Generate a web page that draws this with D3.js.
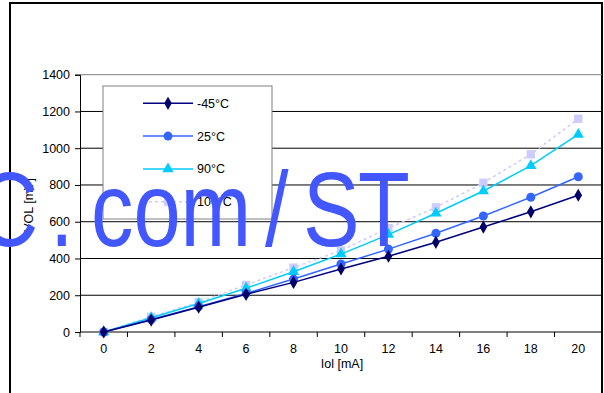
<!DOCTYPE html>
<html><head><meta charset="utf-8">
<script src="https://cdn.jsdelivr.net/npm/d3@7"></script>
<style>body{margin:0;background:#fff}svg{display:block}text{font-family:"Liberation Sans",Arial,sans-serif}</style>
</head><body>
<svg id="c" width="604" height="393"></svg>
<script>
const categories = [0,2,4,6,8,10,12,14,16,18,20];
const yTicks = [0,200,400,600,800,1000,1200,1400];
const seriesNames = ["-45°C","25°C","90°C","100°C"];
const sM45 = [0,65,135,205,270,343,412,488,571,654,744];
const s25  = [0,68,138,210,288,370,451,537,631,733,845];
const s90  = [0,78,155,238,328,424,530,646,767,905,1075];
const s100 = [0,83,162,256,350,444,565,678,812,967,1160];

const svg = d3.select("#c");
const L=80, R=602, T=74.7, B=332;
const FS = 12.5;
const x = d3.scaleBand().domain(categories).range([L,R]);
const y = d3.scaleLinear().domain([0,1400]).range([B,T]);

// outer border
svg.append("path").attr("d","M10,393V3H602V393").attr("fill","none").attr("stroke","#000").attr("stroke-width",2);

// gridlines
svg.append("g").selectAll("line").data(yTicks.filter(d=>d>0&&d<1400)).join("line")
  .attr("x1",L).attr("x2",R).attr("y1",d=>y(d)).attr("y2",d=>y(d)).attr("stroke","#000").attr("stroke-width",1);
svg.append("line").attr("x1",L).attr("x2",R).attr("y1",y(1400)).attr("y2",y(1400)).attr("stroke","#808080");

// y axis
const ya = svg.append("g").attr("transform",`translate(${L},0)`)
  .call(d3.axisLeft(y).tickValues(yTicks).tickSize(5).tickPadding(5).tickFormat(d3.format("d")));
ya.select(".domain").attr("stroke","#000");
ya.selectAll("text").attr("font-size",FS).attr("fill","#000").style("font-family","Liberation Sans, Arial, sans-serif");

// x axis
const xa = svg.append("g").attr("transform",`translate(0,${B})`)
  .call(d3.axisBottom(x).tickSize(0).tickPadding(12));
xa.select(".domain").attr("stroke","#000").attr("d",`M${L},0H${R}`);
xa.selectAll("text").attr("font-size",FS).attr("fill","#000").style("font-family","Liberation Sans, Arial, sans-serif");
const bounds = categories.map(c=>x(c)).concat([R]);
xa.append("g").selectAll("line").data(bounds).join("line")
  .attr("x1",d=>d).attr("x2",d=>d).attr("y1",0).attr("y2",5).attr("stroke","#000");

svg.append("text").attr("x",(L+R)/2+1).attr("y",368).attr("text-anchor","middle").attr("font-size",FS).text("Iol [mA]");
svg.append("text").attr("transform","translate(33,205) rotate(-90)").attr("text-anchor","middle").attr("font-size",FS).text("VOL [mV]");

// series
const series = [
  {name:seriesNames[0], vals:sM45, line:"#000080", fill:"#000066", sym:d3.symbolDiamond, size:50, dash:null},
  {name:seriesNames[1], vals:s25,  line:"#3366ff", fill:"#3366ff", sym:d3.symbolCircle, size:64, dash:null},
  {name:seriesNames[2], vals:s90,  line:"#00ccff", fill:"#00ccff", sym:d3.symbolTriangle, size:55, dash:null},
  {name:seriesNames[3], vals:s100, line:"#ccccff", fill:"#ccccff", sym:d3.symbolSquare, size:70, dash:"3,3"}
];
const cx = c => x(c)+x.bandwidth()/2;
const line = d3.line().x((d,i)=>cx(categories[i])).y(d=>y(d));
series.slice().reverse().forEach(s=>{
  svg.append("path").datum(s.vals).attr("d",line).attr("fill","none").attr("stroke",s.line)
    .attr("stroke-width",1.5).attr("stroke-dasharray",s.dash);
  svg.append("g").selectAll("path").data(s.vals).join("path")
    .attr("transform",(d,i)=>`translate(${cx(categories[i])},${y(d)})`)
    .attr("d",d3.symbol().type(s.sym).size(s.size)).attr("fill",s.fill);
});

// legend
const lg = svg.append("g");
lg.append("rect").attr("x",103).attr("y",86).attr("width",169).attr("height",133).attr("fill","#fff").attr("stroke","#808080");
series.forEach((s,i)=>{
  const ly = 103.3 + i*32.8;
  lg.append("line").attr("x1",143).attr("x2",193).attr("y1",ly).attr("y2",ly).attr("stroke",s.line).attr("stroke-width",1.5).attr("stroke-dasharray",s.dash);
  lg.append("path").attr("transform",`translate(168,${ly})`).attr("d",d3.symbol().type(s.sym).size(s.size)).attr("fill",s.fill);
  lg.append("text").attr("x",197).attr("y",ly+4.5).attr("font-size",FS).text(s.name);
});

// watermark overlay
const wm = svg.append("g").attr("transform","translate(0,246) scale(0.8,1)")
  .attr("fill","#4257ff").attr("font-size",106).style("font-family","Liberation Sans, Arial, sans-serif");
const wmParts = [["C",-23],[".",50],["com",91],["/",265],["S",303],["T",358]];
wmParts.forEach(([t,px])=>wm.append("text").attr("x",px/0.8).attr("y",0).text(t));
</script>
</body></html>
